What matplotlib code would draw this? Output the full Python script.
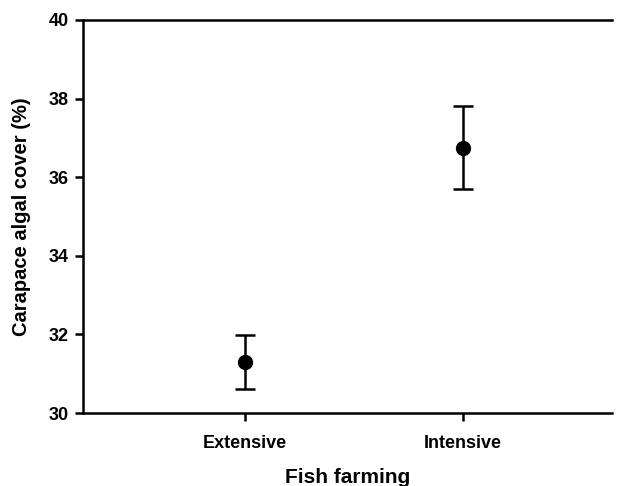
import matplotlib
matplotlib.use('Agg')
import matplotlib.pyplot as plt

plt.rcParams['font.family'] = ['Liberation Sans', 'DejaVu Sans']
plt.rcParams['font.weight'] = 'bold'

groups = ['Extensive', 'Intensive']
cover = [31.3, 36.75]
err = [0.68, 1.06]

fig = plt.figure(figsize=(6.24, 4.86), dpi=100)
ax = fig.add_axes([0.133, 0.150, 0.848, 0.809])

xpos = list(range(1, len(groups) + 1))
ax.errorbar(xpos, cover, yerr=err, fmt='o', color='black', ms=10,
            elinewidth=1.8, capsize=7, capthick=1.8)

ax.set_xlim(0.257, 2.683)
ax.set_ylim(30, 40)
ax.set_yticks([30, 32, 34, 36, 38, 40])
ax.set_xticks(xpos)
ax.set_xticklabels(groups)

for s in ['left', 'bottom', 'top']:
    ax.spines[s].set_linewidth(1.8)
ax.spines['right'].set_visible(False)
ax.tick_params(axis='both', direction='out', length=6, width=1.8, labelsize=13, top=False, right=False)
ax.tick_params(axis='x', pad=10)
ax.tick_params(axis='y', pad=4)

ax.set_xlabel('Fish farming', fontsize=15, fontweight='bold', labelpad=11)
ax.set_ylabel('Carapace algal cover (%)', fontsize=14.5, fontweight='bold', labelpad=13)

fig.savefig('out.png', dpi=100)
